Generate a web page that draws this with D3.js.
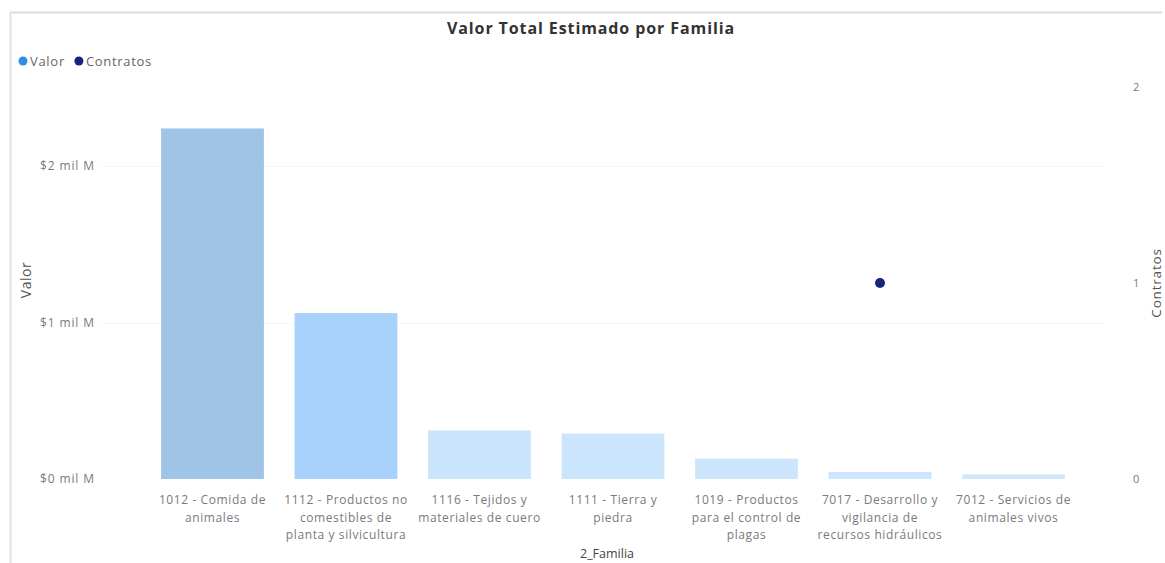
<!DOCTYPE html>
<html><head><meta charset="utf-8">
<script src="https://cdn.jsdelivr.net/npm/d3@7"></script>
<style>body{margin:0;background:#fff;} svg{display:block;font-family:"Open Sans",sans-serif;}</style>
</head><body>
<svg id="c" width="1165" height="563"></svg>
<script>
const categories = ["1012 - Comida de animales","1112 - Productos no comestibles de planta y silvicultura","1116 - Tejidos y materiales de cuero","1111 - Tierra y piedra","1019 - Productos para el control de plagas","7017 - Desarrollo y vigilancia de recursos hidráulicos","7012 - Servicios de animales vivos"];
const tickLabelLines = [
  ["1012 - Comida de","animales"],
  ["1112 - Productos no","comestibles de","planta y silvicultura"],
  ["1116 - Tejidos y","materiales de cuero"],
  ["1111 - Tierra y","piedra"],
  ["1019 - Productos","para el control de","plagas"],
  ["7017 - Desarrollo y","vigilancia de","recursos hidráulicos"],
  ["7012 - Servicios de","animales vivos"]
];
const valor = [2.24, 1.06, 0.31, 0.29, 0.13, 0.045, 0.03]; // mil M
const contratos = [null, null, null, null, null, 1, null];
const barColors = ["#a0c4e6","#a8d2fb","#cae4fc","#cbe5fc","#cce5fc","#cde6fc","#cfe7fc"];
const leftTicks = [0, 1, 2];
const leftTickLabels = ["$0 mil M","$1 mil M","$2 mil M"];
const rightTicks = [0, 1, 2];

const svg = d3.select("#c");
// frame
svg.append("line").attr("x1",10).attr("x2",1162).attr("y1",12.5).attr("y2",12.5).attr("stroke","#dcdcdc").attr("stroke-width",2);
svg.append("line").attr("x1",10.5).attr("x2",10.5).attr("y1",12).attr("y2",563).attr("stroke","#e2e2e2").attr("stroke-width",2);

const x = d3.scaleBand().domain(categories).range([145.75, 1080.25]).paddingInner(0.23).paddingOuter(0.115);
const yL = d3.scaleLinear().domain([0, 2]).range([479, 166]);
const yR = d3.scaleLinear().domain([0, 2]).range([479, 87]);

// gridlines
svg.append("g").selectAll("line").data(leftTicks.filter(d=>d>0)).join("line")
  .attr("x1",100).attr("x2",1105).attr("y1",d=>Math.round(yL(d))+0.5).attr("y2",d=>Math.round(yL(d))+0.5)
  .attr("stroke","#f6f6f6").attr("stroke-width",1);

// bars
svg.append("g").selectAll("rect").data(categories).join("rect")
  .attr("x",d=>x(d)).attr("width",x.bandwidth())
  .attr("y",(d,i)=>yL(valor[i])).attr("height",(d,i)=>yL(0)-yL(valor[i]))
  .attr("fill",(d,i)=>barColors[i]);

// dots
svg.append("g").selectAll("circle").data(categories.filter((d,i)=>contratos[i]!=null)).join("circle")
  .attr("cx",d=>x(d)+x.bandwidth()/2).attr("cy",d=>yR(contratos[categories.indexOf(d)]))
  .attr("r",5).attr("fill","#15257f");

// left axis
const gl = svg.append("g").attr("transform","translate(95,0)")
  .call(d3.axisLeft(yL).tickValues(leftTicks).tickFormat((d,i)=>leftTickLabels[i]).tickSize(0).tickPadding(0));
gl.select(".domain").remove();
gl.selectAll("text").attr("font-size",12).attr("letter-spacing","0.9px").attr("fill","#7a7a7a").attr("font-family","Open Sans, sans-serif");

// right axis
const gr = svg.append("g").attr("transform","translate(1133,0)")
  .call(d3.axisRight(yR).tickValues(rightTicks).tickFormat(d3.format("d")).tickSize(0).tickPadding(0));
gr.select(".domain").remove();
gr.selectAll("text").attr("font-size",11).attr("fill","#7a7a7a").attr("font-family","Open Sans, sans-serif");

// x axis labels
const gx = svg.append("g").attr("transform","translate(0,479)")
  .call(d3.axisBottom(x).tickSize(0).tickFormat(""));
gx.select(".domain").remove();
gx.selectAll(".tick").each(function(d){
  const i = categories.indexOf(d);
  const t = d3.select(this).select("text").attr("y",0).attr("dy",null)
    .attr("font-size",12).attr("letter-spacing","0.6px").attr("fill","#7a7a7a").attr("font-family","Open Sans, sans-serif");
  tickLabelLines[i].forEach((s,k)=>{
    t.append("tspan").attr("x",0).attr("y",25 + k*17.5).text(s);
  });
});

// titles
svg.append("text").attr("x",591).attr("y",34).attr("text-anchor","middle")
  .attr("font-size",16).attr("letter-spacing","0.9px").attr("font-weight","bold").attr("fill","#333").text("Valor Total Estimado por Familia");
svg.append("text").attr("transform","translate(31,280) rotate(-90)").attr("text-anchor","middle")
  .attr("font-size",14).attr("letter-spacing","0.5px").attr("fill","#555").text("Valor");
svg.append("text").attr("transform","translate(1161,283) rotate(-90)").attr("text-anchor","middle")
  .attr("font-size",13.5).attr("letter-spacing","0.8px").attr("fill","#555").text("Contratos");
svg.append("text").attr("x",607).attr("y",558).attr("text-anchor","middle")
  .attr("font-size",12.5).attr("fill","#444").text("2_Familia");

// legend
const legend = [{name:"Valor",color:"#2f8fe6"},{name:"Contratos",color:"#15257f"}];
let lx = 23;
legend.forEach(l=>{
  svg.append("circle").attr("cx",lx).attr("cy",61).attr("r",4.5).attr("fill",l.color);
  const t = svg.append("text").attr("x",lx+7).attr("y",65.5).attr("font-size",13).attr("letter-spacing","0.7px").attr("fill","#666").text(l.name);
  lx += 7 + t.node().getComputedTextLength() + 14;
});
</script>
</body></html>
